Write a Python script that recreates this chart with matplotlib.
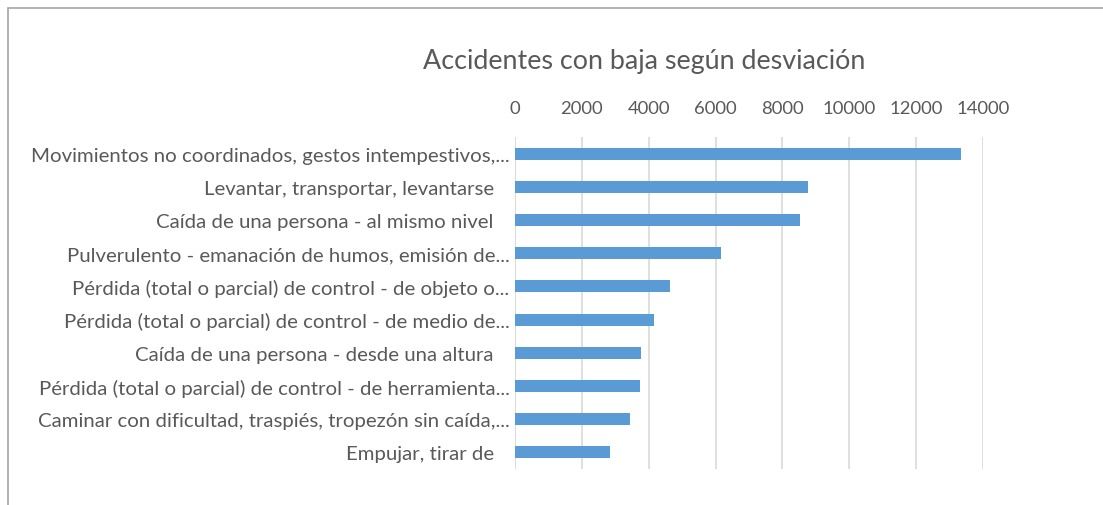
import matplotlib.pyplot as plt
from matplotlib.patches import Rectangle

# Accidentes con baja segun desviacion
categorias = [
    "Movimientos no coordinados, gestos intempestivos,...",
    "Levantar, transportar, levantarse   ",
    "Caída de una persona - al mismo nivel   ",
    "Pulverulento - emanación de humos, emisión de...",
    "Pérdida (total o parcial) de control - de objeto o...",
    "Pérdida (total o parcial) de control - de medio de...",
    "Caída de una persona - desde una altura   ",
    "Pérdida (total o parcial) de control - de herramienta...",
    "Caminar con dificultad, traspiés, tropezón sin caída,...",
    "Empujar, tirar de   ",
]
valores = [13350, 8760, 8520, 6170, 4630, 4170, 3770, 3730, 3450, 2850]
xticks = [0, 2000, 4000, 6000, 8000, 10000, 12000, 14000]

TEXT = '#595959'
plt.rcParams['font.family'] = ['Lato', 'DejaVu Sans']

fig = plt.figure(figsize=(11.03, 5.06), dpi=100)
ax = fig.add_axes([515 / 1103, 36 / 506, 468 / 1103, 332 / 506])

pos = list(range(len(categorias)))
ax.barh(pos, valores, height=0.36, color='#5B9BD5', zorder=3)
ax.set_ylim(len(categorias) - 0.5, -0.5)
ax.set_yticks(pos)
ax.set_yticklabels(categorias, fontsize=14.7, color=TEXT)

ax.set_xlim(0, 14000)
ax.set_xticks(xticks)
ax.set_xticklabels([str(v) for v in xticks], fontsize=13.3, color=TEXT)
ax.xaxis.tick_top()
ax.tick_params(axis='x', length=0, pad=15)
ax.tick_params(axis='y', length=0, pad=4)
ax.grid(axis='x', color='#D9D9D9', linewidth=1.2, zorder=0)
ax.axvline(0, color='#D9D9D9', linewidth=1.2, zorder=1)
for s in ax.spines.values():
    s.set_visible(False)

fig.suptitle('Accidentes con baja según desviación', x=644 / 1103, y=1 - 62 / 506,
             va='center', ha='center', fontsize=19.4, color=TEXT)

# marco del grafico (recortado a la derecha y abajo)
fig.patches.append(Rectangle((8 / 1103, -0.1), 1.2, (506 - 9) / 506 + 0.1,
                             transform=fig.transFigure, fill=False,
                             edgecolor='#A6A6A6', linewidth=1.2))

fig.savefig('out.png', dpi=100)
